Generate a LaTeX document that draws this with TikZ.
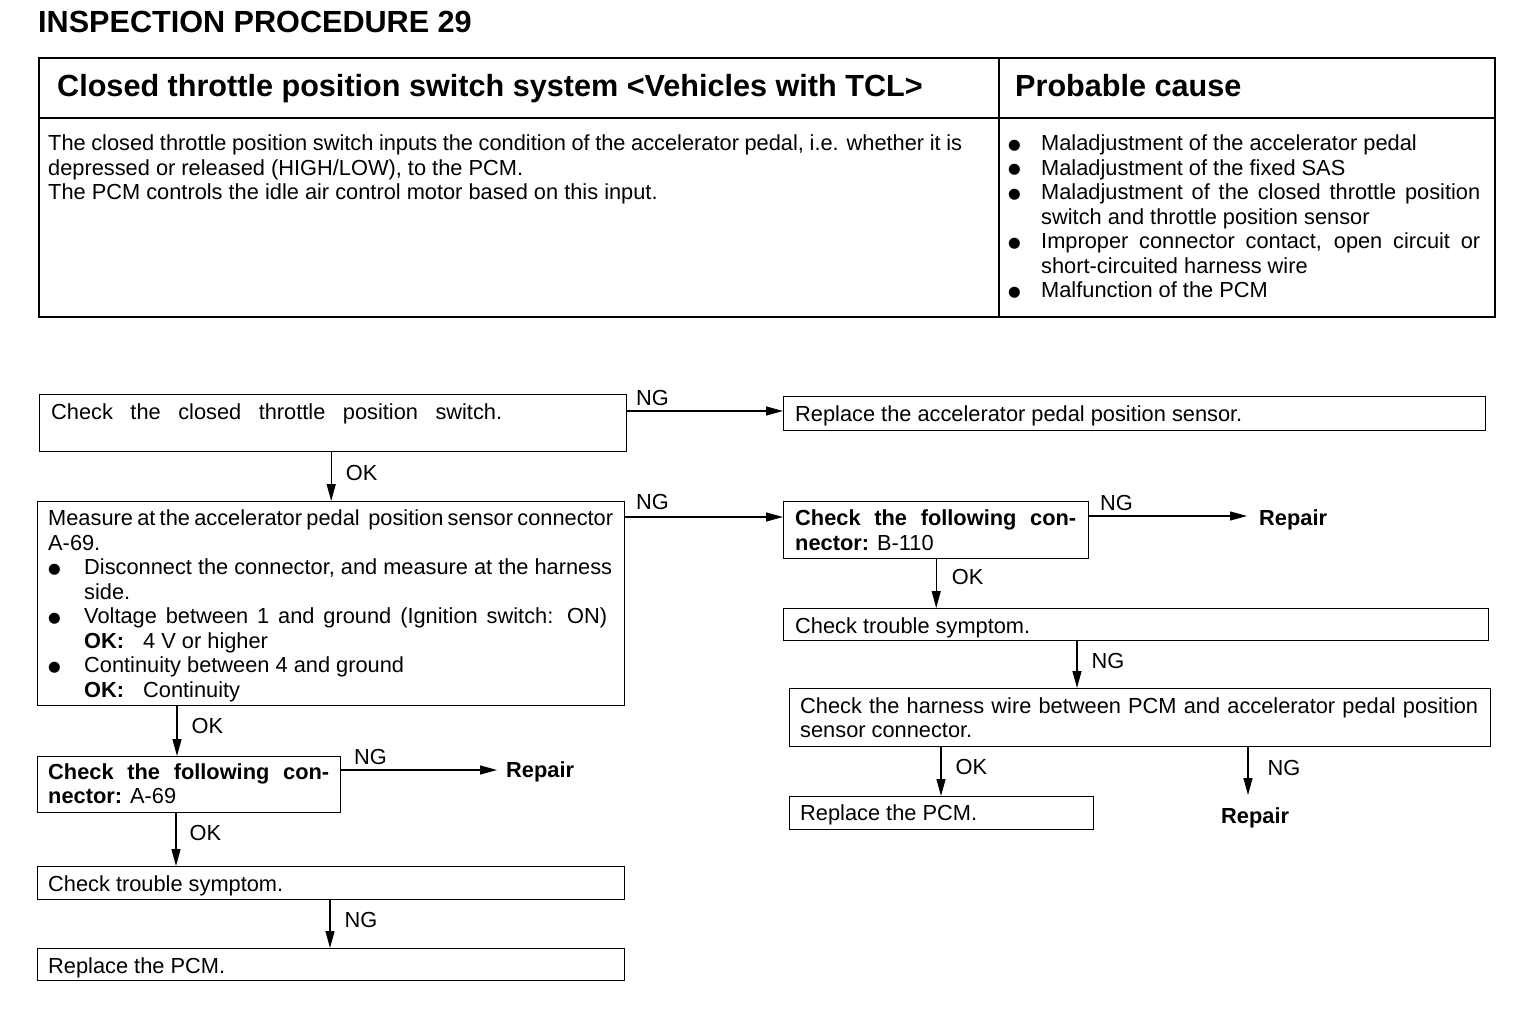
\documentclass[tikz,border=0pt]{standalone}
\usepackage{fontspec}
\setmainfont{Liberation Sans}
\newfontfamily\symf{DejaVu Sans}
\usetikzlibrary{arrows.meta,calc}
\newcommand\bodyf{\fontsize{21.8pt}{24.5pt}\selectfont}
\newcommand\headf{\fontsize{30.6pt}{30.6pt}\selectfont\bfseries}
\newcommand\bul{\raisebox{1.5pt}{\symf\fontsize{14.5pt}{14.5pt}\selectfont ●}}
\newcommand\bl[1]{\makebox[#1pt][l]{\hspace*{0pt}\bul}}
\newcommand\okv[1]{\makebox[59pt][l]{\textbf{OK:}}#1}
\tikzset{
  box/.style={draw, line width=1.4pt, rectangle, inner sep=0pt, anchor=north west},
  tbox/.style={draw, line width=1.6pt, rectangle, inner sep=0pt, anchor=north west},
  txt/.style={inner sep=0pt, anchor=base west},
  lbl/.style={inner sep=0pt, anchor=base west, font=\bodyf},
  rep/.style={inner ysep=0pt, anchor=base west, font=\bodyf\bfseries},
  arr/.style={-{Triangle[length=17pt,width=9pt]}, line width=1.3pt}
}
\newcommand\fbx[6][box]{\node[#1, minimum width={(#5)-(#3)}, minimum height={(#6)-(#4)}] (#2) at (#3,#4) {};}
\begin{document}
\begin{tikzpicture}[x=1pt,y=-1pt]
\useasboundingbox[fill=white] (0,0) rectangle (1520,1016);
% title
\node[txt, font=\headf] (title) at (38,33) {INSPECTION PROCEDURE 29};
% table
\fbx[tbox]{hL}{38}{57}{998}{117}
\fbx[tbox]{hR}{998}{57}{1494}{117}
\fbx[tbox]{bL}{38}{117}{998}{316}
\fbx[tbox]{bR}{998}{117}{1494}{316}
\node[txt, font=\headf] (hLt) at (57,97) {Closed throttle position switch system <Vehicles with TCL>};
\node[txt, font=\headf] (hRt) at (1015,97) {Probable cause};
\node[txt] (bLt) at (48,151) {\parbox[t]{940pt}{\bodyf
\makebox[914pt][s]{The closed throttle position switch inputs the condition of the accelerator pedal, i.e. whether it is}\\
depressed or released (HIGH/LOW), to the PCM.\\
The PCM controls the idle air control motor based on this input.}};
\node[txt] (bRt) at (1008,151) {\parbox[t]{480pt}{\bodyf
\bl{33}Maladjustment of the accelerator pedal\\
\bl{33}Maladjustment of the fixed SAS\\
\bl{33}\makebox[439pt][s]{Maladjustment of the closed throttle position}\\
\hspace*{33pt}switch and throttle position sensor\\
\bl{33}\makebox[439pt][s]{Improper connector contact, open circuit or}\\
\hspace*{33pt}short-circuited harness wire\\
\bl{33}Malfunction of the PCM}};
% flow boxes
\fbx{B1}{39}{394}{626}{451}
\fbx{B2}{783}{396}{1485}{430}
\fbx{B3}{37}{501}{624}{705}
\fbx{B4}{783}{501}{1088}{558}
\fbx{B5}{783}{608}{1488}{640}
\fbx{B6}{789}{688}{1490}{746}
\fbx{B7}{789}{796}{1093}{829}
\fbx{B8}{37}{756}{340}{812}
\fbx{B9}{37}{866}{624}{899}
\fbx{B10}{37}{948}{624}{980}
% box texts
\node[txt] (t1) at (51,419.5) {\parbox[t]{570pt}{\bodyf\makebox[451pt][s]{Check the closed throttle position switch.}}};
\node[txt] (t2) at (795,421) {\parbox[t]{680pt}{\bodyf Replace the accelerator pedal position sensor.}};
\node[txt] (t3) at (48,525.5) {\parbox[t]{575pt}{\bodyf
\makebox[565pt][s]{Measure at the accelerator pedal \ position sensor connector}\\
A-69.\\
\bl{36}\makebox[528pt][s]{Disconnect the connector, and measure at the harness}\\
\hspace*{36pt}side.\\
\bl{36}\makebox[523pt][s]{Voltage between 1 and ground (Ignition switch: ON)}\\
\hspace*{36pt}\okv{4 V or higher}\\
\bl{36}Continuity between 4 and ground\\
\hspace*{36pt}\okv{Continuity}}};
\node[txt] (t4) at (795,525.5) {\parbox[t]{290pt}{\bodyf
\makebox[281pt][s]{\textbf{Check the following con-}}\\
\textbf{nector:} B-110}};
\node[txt] (t5) at (795,633) {\parbox[t]{690pt}{\bodyf Check trouble symptom.}};
\node[txt] (t6) at (800,713) {\parbox[t]{685pt}{\bodyf
\makebox[678pt][s]{Check the harness wire between PCM and accelerator pedal position}\\
sensor connector.}};
\node[txt] (t7) at (800,820) {\parbox[t]{290pt}{\bodyf Replace the PCM.}};
\node[txt] (t8) at (48,779) {\parbox[t]{290pt}{\bodyf
\makebox[281pt][s]{\textbf{Check the following con-}}\\
\textbf{nector:} A-69}};
\node[txt] (t9) at (48,891) {\parbox[t]{570pt}{\bodyf Check trouble symptom.}};
\node[txt] (t10) at (48,973) {\parbox[t]{570pt}{\bodyf Replace the PCM.}};
% repair labels
\node[rep, inner xsep=12pt] (R1) at (1247,525) {Repair};
\node[rep, inner xsep=9pt] (R2) at (497,777) {Repair};
\node[rep, inner xsep=0pt, inner ysep=12pt] (R3) at (1221,823) {Repair};
% connectors
\draw[arr] ($(B1.north east)+(0,17)$) coordinate (a1) -- node[lbl, pos=0, xshift=8pt, yshift=6pt] (n1) {NG} (a1 -| B2.west);
\draw[arr] (B1.south -| B3.north) -- node[lbl, pos=0, xshift=14pt, yshift=-28pt] (n2) {OK} (B3.north);
\draw[arr] ($(B3.north east)+(0,16)$) coordinate (a3) -- node[lbl, pos=0, xshift=10pt, yshift=8pt] (n3) {NG} (a3 -| B4.west);
\draw[arr] ($(B4.north east)+(0,15)$) coordinate (a4) -- node[lbl, pos=0, xshift=10pt, yshift=6pt] (n4) {NG} (a4 -| R1.west);
\draw[arr] (B4.south) -- node[lbl, pos=0, xshift=15pt, yshift=-25pt] (n5) {OK} (B4.south |- B5.north);
\draw[arr] ($(B5.south west)+(294,0)$) coordinate (a6) -- node[lbl, pos=0, xshift=14pt, yshift=-27pt] (n6) {NG} (a6 |- B6.north);
\draw[arr] ($(B6.south west)+(152,0)$) coordinate (a7) -- node[lbl, pos=0, xshift=14pt, yshift=-27pt] (n7) {OK} (a7 |- B7.north);
\draw[arr] ($(B6.south west)+(459,0)$) coordinate (a8) -- node[lbl, pos=0, xshift=19pt, yshift=-28pt] (n8) {NG} (a8 |- R3.north);
\draw[arr] ($(B3.south west)+(140,0)$) coordinate (a9) -- node[lbl, pos=0, xshift=14pt, yshift=-27pt] (n9) {OK} (a9 |- B8.north);
\draw[arr] ($(B8.north east)+(0,14)$) coordinate (a10) -- node[lbl, pos=0, xshift=12pt, yshift=6pt] (n10) {NG} (a10 -| R2.west);
\draw[arr] ($(B8.south west)+(139,0)$) coordinate (a11) -- node[lbl, pos=0, xshift=13pt, yshift=-27pt] (n11) {OK} (a11 |- B9.north);
\draw[arr] ($(B9.south west)+(293,0)$) coordinate (a12) -- node[lbl, pos=0, xshift=14pt, yshift=-27pt] (n12) {NG} (a12 |- B10.north);
\end{tikzpicture}
\end{document}
